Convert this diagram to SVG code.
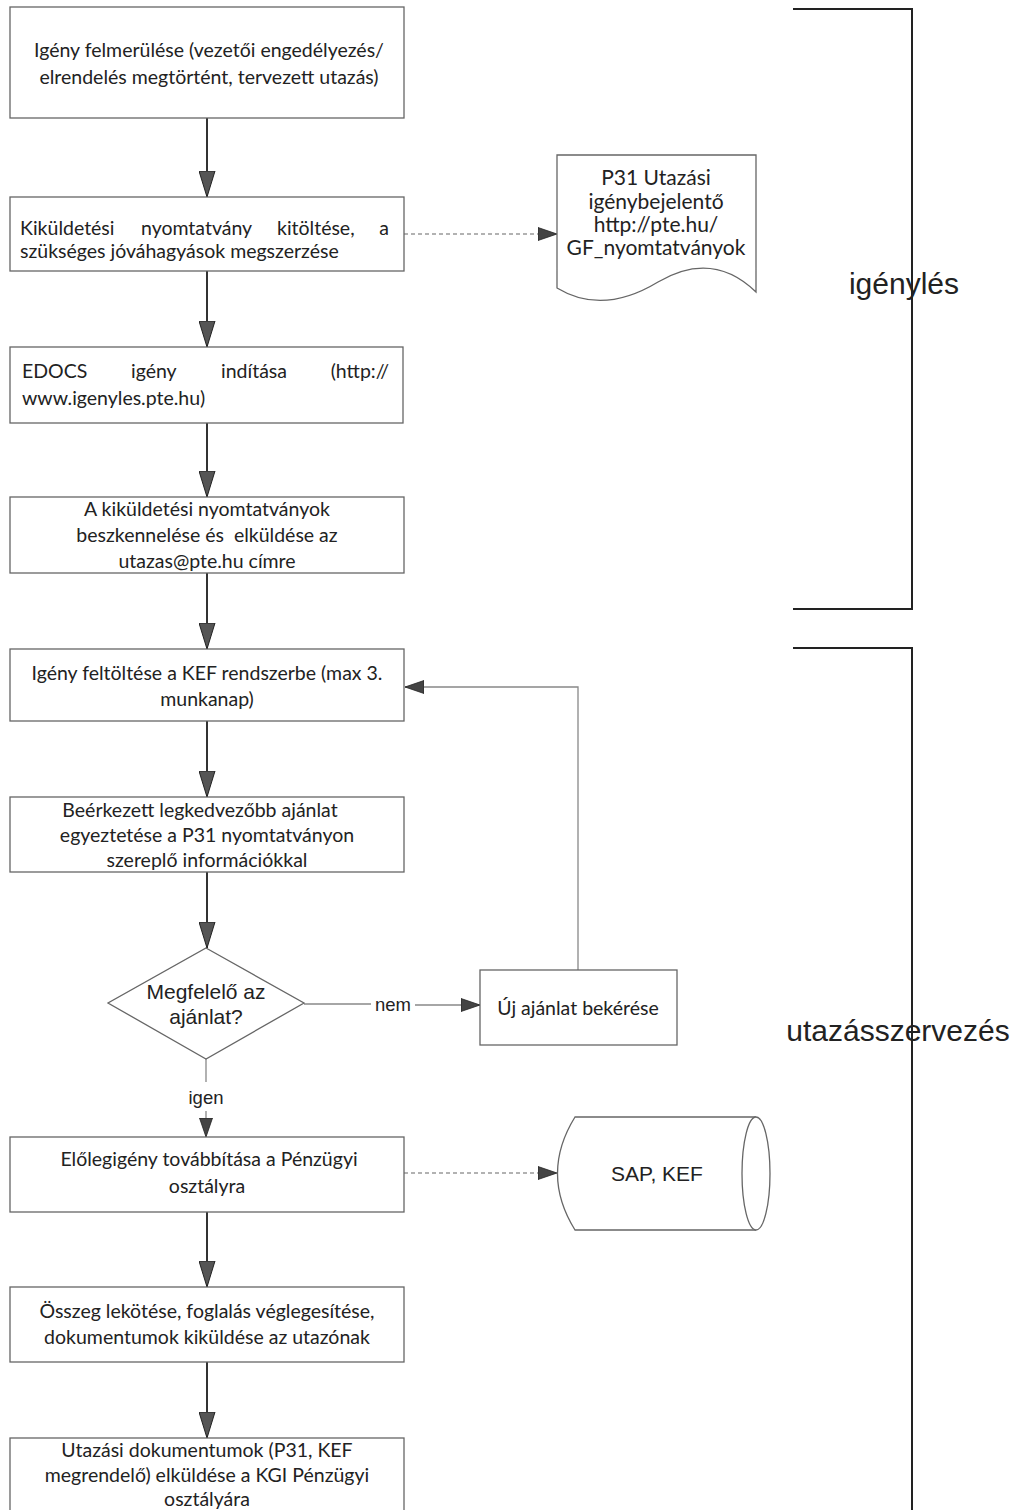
<svg xmlns="http://www.w3.org/2000/svg" width="1021" height="1510" viewBox="0 0 1021 1510">
<style>
.box{fill:#fff;stroke:#666;stroke-width:1.3}
.t{font-family:Lato,"Liberation Sans",sans-serif;font-size:19.5px;fill:#222}
.d{font-size:21px}
.c{text-anchor:middle}
.a{font-family:"Liberation Sans",Arial,sans-serif;fill:#222}
.main{stroke:#333;stroke-width:2;fill:none}
.thin{stroke:#888;stroke-width:1.3;fill:none}
.dash{stroke:#999;stroke-width:1.3;fill:none;stroke-dasharray:4 3}
.br{stroke:#222;stroke-width:2;fill:none}
</style>
<defs>
<marker id="big" viewBox="0 0 26 17" refX="26" refY="8.5" markerWidth="26" markerHeight="17" markerUnits="userSpaceOnUse" orient="auto"><path d="M0,0.5 L26,8.5 L0,16.5 z" fill="#555" stroke="#222" stroke-width="1"/></marker>
<marker id="sm" viewBox="0 0 19 14" refX="19" refY="7" markerWidth="19" markerHeight="14" markerUnits="userSpaceOnUse" orient="auto"><path d="M0,0.5 L19,7 L0,13.5 z" fill="#444" stroke="#222" stroke-width="0.8"/></marker>
</defs>

<g id="brackets">
<path class="br" d="M793,9 H912 V609 H793"/>
<path class="br" d="M793,648 H912 V1512"/>
<text class="a" x="904" y="294" font-size="30" text-anchor="middle">igénylés</text>
<text class="a" x="898" y="1041" font-size="30" text-anchor="middle">utazásszervezés</text>
</g>

<g id="connectors">
<path class="main" d="M207,118 V197" marker-end="url(#big)"/>
<path class="main" d="M207,271 V347" marker-end="url(#big)"/>
<path class="main" d="M207,423 V497" marker-end="url(#big)"/>
<path class="main" d="M207,573 V649" marker-end="url(#big)"/>
<path class="main" d="M207,721 V797" marker-end="url(#big)"/>
<path class="main" d="M207,872 V948" marker-end="url(#big)"/>
<path class="main" d="M207,1212 V1287" marker-end="url(#big)"/>
<path class="main" d="M207,1362 V1438" marker-end="url(#big)"/>
<path class="dash" d="M404,234 H557" marker-end="url(#sm)"/>
<path class="dash" d="M404,1173 H557" marker-end="url(#sm)"/>
<path class="thin" d="M578,970 V687 H405" marker-end="url(#sm)"/>
<path class="thin" d="M304,1004 H371"/>
<path class="thin" d="M415,1005 H480" marker-end="url(#sm)"/>
<text class="a" x="393" y="1011" font-size="18.5" text-anchor="middle">nem</text>
<path class="thin" d="M206,1059 V1082"/>
<path class="thin" d="M206,1111 V1137" marker-end="url(#sm)"/>
<text class="a" x="206" y="1104" font-size="18.5" text-anchor="middle">igen</text>
</g>

<g id="n1">
<rect class="box" x="10" y="7" width="394" height="111"/>
<text class="t c" x="209" y="57">Igény felmerülése (vezetői engedélyezés/</text>
<text class="t c" x="209" y="84">elrendelés megtörtént, tervezett utazás)</text>
</g>

<g id="n2">
<rect class="box" x="10" y="197" width="394" height="74"/>
<text class="t" x="20" y="235">Kiküldetési</text>
<text class="t" x="141" y="235">nyomtatvány</text>
<text class="t" x="277" y="235">kitöltése,</text>
<text class="t" x="389" y="235" text-anchor="end">a</text>
<text class="t" x="20" y="258">szükséges jóváhagyások megszerzése</text>
</g>

<g id="n3">
<rect class="box" x="10" y="347" width="393" height="76"/>
<text class="t" x="22" y="378">EDOCS</text>
<text class="t" x="131" y="378">igény</text>
<text class="t" x="221" y="378">indítása</text>
<text class="t" x="389" y="378" text-anchor="end">(http://</text>
<text class="t" x="22" y="405">www.igenyles.pte.hu)</text>
</g>

<g id="n4">
<rect class="box" x="10" y="497" width="394" height="76"/>
<text class="t c" x="207" y="516">A kiküldetési nyomtatványok</text>
<text class="t c" x="207" y="542" xml:space="preserve">beszkennelése és  elküldése az</text>
<text class="t c" x="207" y="568">utazas@pte.hu címre</text>
</g>

<g id="n5">
<rect class="box" x="10" y="649" width="394" height="72"/>
<text class="t c" x="207" y="680">Igény feltöltése a KEF rendszerbe (max 3.</text>
<text class="t c" x="207" y="706">munkanap)</text>
</g>

<g id="n6">
<rect class="box" x="10" y="797" width="394" height="75"/>
<text class="t c" x="200" y="817">Beérkezett legkedvezőbb ajánlat</text>
<text class="t c" x="207" y="842">egyeztetése a P31 nyomtatványon</text>
<text class="t c" x="207" y="867">szereplő információkkal</text>
</g>

<g id="n7">
<polygon class="box" points="206,948 304,1003 206,1059 108,1003"/>
<text class="a" x="206" y="999" font-size="21" text-anchor="middle">Megfelelő az</text>
<text class="a" x="206" y="1024" font-size="21" text-anchor="middle">ajánlat?</text>
</g>

<g id="n8">
<rect class="box" x="480" y="970" width="197" height="75"/>
<text class="t c" x="578" y="1015">Új ajánlat bekérése</text>
</g>

<g id="n9">
<rect class="box" x="10" y="1137" width="394" height="75"/>
<text class="t c" x="209" y="1166">Előlegigény továbbítása a Pénzügyi</text>
<text class="t c" x="207" y="1193">osztályra</text>
</g>

<g id="n10">
<rect class="box" x="10" y="1287" width="394" height="75"/>
<text class="t c" x="207" y="1318">Összeg lekötése, foglalás véglegesítése,</text>
<text class="t c" x="207" y="1344">dokumentumok kiküldése az utazónak</text>
</g>

<g id="n11">
<rect class="box" x="10" y="1438" width="394" height="80"/>
<text class="t c" x="207" y="1457">Utazási dokumentumok (P31, KEF</text>
<text class="t c" x="207" y="1482">megrendelő) elküldése a KGI Pénzügyi</text>
<text class="t c" x="207" y="1506">osztályára</text>
</g>

<g id="doc">
<path class="box" d="M557,155 H756 V292 C725,262 692,262 658,282 C625,302 590,308 557,288 Z"/>
<text class="t d c" x="656" y="185">P31 Utazási</text>
<text class="t d c" x="656" y="209">igénybejelentő</text>
<text class="t d c" x="656" y="232">http://pte.hu/</text>
<text class="t d c" x="656" y="255">GF_nyomtatványok</text>
</g>

<g id="db">
<path class="box" d="M575,1117 H756 A14,56.5 0 0 1 756,1230 H575 Q540,1173.5 575,1117 Z"/>
<path class="box" d="M756,1117 A14,56.5 0 0 0 756,1230" fill="none"/>
<text class="a" x="657" y="1181" font-size="21" text-anchor="middle">SAP, KEF</text>
</g>
</svg>
